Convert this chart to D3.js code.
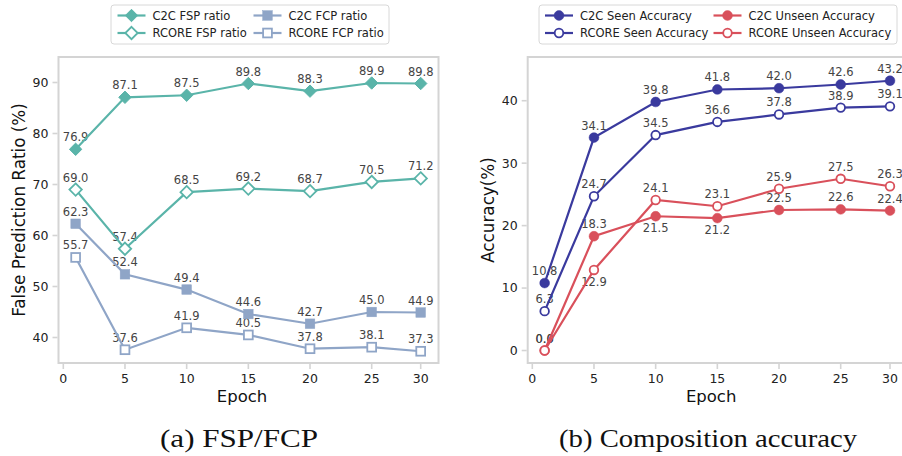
<!DOCTYPE html>
<html>
<head>
<meta charset="utf-8">
<script src="https://cdn.jsdelivr.net/npm/d3@7"></script>
<style>
  body { margin: 0; background: #fff; }
  svg { display: block; font-family: "DejaVu Sans", sans-serif; }
</style>
</head>
<body>
<svg id="chart" width="902" height="456"></svg>
<script>
const epochs = [1, 5, 10, 15, 20, 25, 30];
const xTicks = [0, 5, 10, 15, 20, 25, 30];

// (a) FSP / FCP
const c2cFsp = [76.9, 87.1, 87.5, 89.8, 88.3, 89.9, 89.8];
const rcoreFsp = [69.0, 57.4, 68.5, 69.2, 68.7, 70.5, 71.2];
const c2cFcp = [62.3, 52.4, 49.4, 44.6, 42.7, 45.0, 44.9];
const rcoreFcp = [55.7, 37.6, 41.9, 40.5, 37.8, 38.1, 37.3];
const ticksA = [40, 50, 60, 70, 80, 90];

// (b) composition accuracy
const c2cSeen = [10.8, 34.1, 39.8, 41.8, 42.0, 42.6, 43.2];
const rcoreSeen = [6.3, 24.7, 34.5, 36.6, 37.8, 38.9, 39.1];
const c2cUnseen = [0.0, 18.3, 21.5, 21.2, 22.5, 22.6, 22.4];
const rcoreUnseen = [0.0, 12.9, 24.1, 23.1, 25.9, 27.5, 26.3];
const ticksB = [0, 10, 20, 30, 40];

const TEAL = '#5ab4a9', SLATE = '#8fa5c7', NAVY = '#3a3a9e', RED = '#d9505b';
const FRAME = '#d4d4d4';

const svg = d3.select('#chart');

function drawPanel(cfg) {
  const g = svg.append('g');
  const { left, right, top, bottom } = cfg.frame;

  // x: last interval is compressed in the original plot
  const x = d3.scaleLinear().domain([0, 25, 30]).range(cfg.xRange);
  const y = d3.scaleLinear().domain(cfg.yDomain).range([bottom, top]);

  // frame
  g.append('rect')
    .attr('x', left).attr('y', top)
    .attr('width', right - left).attr('height', bottom - top)
    .attr('fill', 'none').attr('stroke', FRAME).attr('stroke-width', 2);

  // x ticks
  xTicks.forEach(t => {
    g.append('line').attr('x1', x(t)).attr('x2', x(t))
      .attr('y1', bottom + 1).attr('y2', bottom + 6)
      .attr('stroke', FRAME).attr('stroke-width', 1.6);
    g.append('text').attr('x', x(t)).attr('y', bottom + 20)
      .attr('text-anchor', 'middle').attr('font-size', 12.5).attr('fill', '#222')
      .text(t);
  });
  // y ticks
  cfg.yTicks.forEach(t => {
    g.append('line').attr('x1', left - 6).attr('x2', left - 1)
      .attr('y1', y(t)).attr('y2', y(t))
      .attr('stroke', FRAME).attr('stroke-width', 1.6);
    g.append('text').attr('x', left - 10).attr('y', y(t))
      .attr('dy', '0.35em')
      .attr('text-anchor', 'end').attr('font-size', 12.5).attr('fill', '#222')
      .text(t);
  });

  // axis labels
  g.append('text').attr('x', (cfg.xRange[0] + cfg.xRange[2]) / 2).attr('y', bottom + 39)
    .attr('text-anchor', 'middle').attr('font-size', 16.5).attr('fill', '#111')
    .text('Epoch');
  g.append('text')
    .attr('transform', `translate(${cfg.yLabelX},${(top + bottom) / 2}) rotate(-90)`)
    .attr('text-anchor', 'middle').attr('font-size', 16.8).attr('fill', '#111')
    .text(cfg.yLabel);

  const line = d3.line().x((d, i) => x(epochs[i])).y(d => y(d));

  // value labels
  cfg.series.forEach(s => {
    s.values.forEach((v, i) => {
      const below = (s.below || []).includes(i);
      g.append('text')
        .attr('x', x(epochs[i])).attr('y', y(v) + (below ? 16 : -8))
        .attr('text-anchor', 'middle').attr('font-size', 11.5).attr('fill', '#444')
        .text(v.toFixed(1));
    });
  });

  // lines + markers
  cfg.series.forEach(s => {
    g.append('path').datum(s.values)
      .attr('d', line).attr('fill', 'none')
      .attr('stroke', s.color).attr('stroke-width', 2.2);
    s.values.forEach((v, i) => drawMarker(g, s, x(epochs[i]), y(v)));
  });

  // legend
  const lg = cfg.legend;
  g.append('rect')
    .attr('x', lg.x).attr('y', 5).attr('width', lg.w).attr('height', 39)
    .attr('rx', 3).attr('fill', '#fff').attr('stroke', '#d8d8d8').attr('stroke-width', 1);
  cfg.series.forEach((s, i) => {
    const col = i < 2 ? 0 : 1;
    const row = i % 2;
    const hx = lg.cols[col];
    const hy = 15.5 + row * 17.5;
    g.append('line').attr('x1', hx).attr('x2', hx + 28)
      .attr('y1', hy).attr('y2', hy)
      .attr('stroke', s.color).attr('stroke-width', 2.2);
    drawMarker(g, s, hx + 14, hy);
    g.append('text').attr('x', hx + 35).attr('y', hy).attr('dy', '0.36em')
      .attr('font-size', 11.5).attr('fill', '#222')
      .text(s.name);
  });

  // caption
  g.append('text').attr('x', cfg.captionX).attr('y', 447)
    .attr('text-anchor', 'middle')
    .attr('font-family', '"Liberation Serif", "DejaVu Serif", serif')
    .attr('font-size', 26).attr('fill', '#111')
    .attr('textLength', cfg.captionW).attr('lengthAdjust', 'spacingAndGlyphs')
    .text(cfg.caption);
}

function drawMarker(g, s, cx, cy) {
  const fill = s.hollow ? '#fff' : s.color;
  if (s.marker === 'diamond') {
    const r = 6.2;
    g.append('path')
      .attr('d', `M${cx},${cy - r}L${cx + r},${cy}L${cx},${cy + r}L${cx - r},${cy}Z`)
      .attr('fill', fill).attr('stroke', s.color).attr('stroke-width', s.hollow ? 1.8 : 1);
  } else if (s.marker === 'square') {
    const h = s.hollow ? 4.4 : 4.8;
    g.append('rect').attr('x', cx - h).attr('y', cy - h)
      .attr('width', 2 * h).attr('height', 2 * h)
      .attr('fill', fill).attr('stroke', s.color).attr('stroke-width', s.hollow ? 1.8 : 0.5);
  } else {
    g.append('circle').attr('cx', cx).attr('cy', cy)
      .attr('r', s.hollow ? 4.3 : 4.9)
      .attr('fill', fill).attr('stroke', s.color).attr('stroke-width', s.hollow ? 1.8 : 0.5);
  }
}

drawPanel({
  frame: { left: 58.5, right: 438.5, top: 57, bottom: 363 },
  xRange: [63.3, 371.7, 420.7],
  yDomain: [35, 95],
  yTicks: ticksA,
  yLabel: 'False Prediction Ratio (%)',
  yLabelX: 25,
  caption: '(a) FSP/FCP',
  captionX: 239, captionW: 158,
  legend: { x: 111, w: 278, cols: [117.5, 253.5] },
  series: [
    { name: 'C2C FSP ratio', values: c2cFsp, color: TEAL, marker: 'diamond' },
    { name: 'RCORE FSP ratio', values: rcoreFsp, color: TEAL, marker: 'diamond', hollow: true },
    { name: 'C2C FCP ratio', values: c2cFcp, color: SLATE, marker: 'square' },
    { name: 'RCORE FCP ratio', values: rcoreFcp, color: SLATE, marker: 'square', hollow: true }
  ]
});

drawPanel({
  frame: { left: 527.7, right: 908, top: 57, bottom: 363 },
  xRange: [532.3, 840.7, 890],
  yDomain: [-2, 47],
  yTicks: ticksB,
  yLabel: 'Accuracy(%)',
  yLabelX: 494,
  caption: '(b) Composition accuracy',
  captionX: 708, captionW: 298,
  legend: { x: 539, w: 358, cols: [545, 713.5] },
  series: [
    { name: 'C2C Seen Accuracy', values: c2cSeen, color: NAVY, marker: 'circle' },
    { name: 'RCORE Seen Accuracy', values: rcoreSeen, color: NAVY, marker: 'circle', hollow: true },
    { name: 'C2C Unseen Accuracy', values: c2cUnseen, color: RED, marker: 'circle', below: [2, 3] },
    { name: 'RCORE Unseen Accuracy', values: rcoreUnseen, color: RED, marker: 'circle', hollow: true, below: [1] }
  ]
});
</script>
</body>
</html>
